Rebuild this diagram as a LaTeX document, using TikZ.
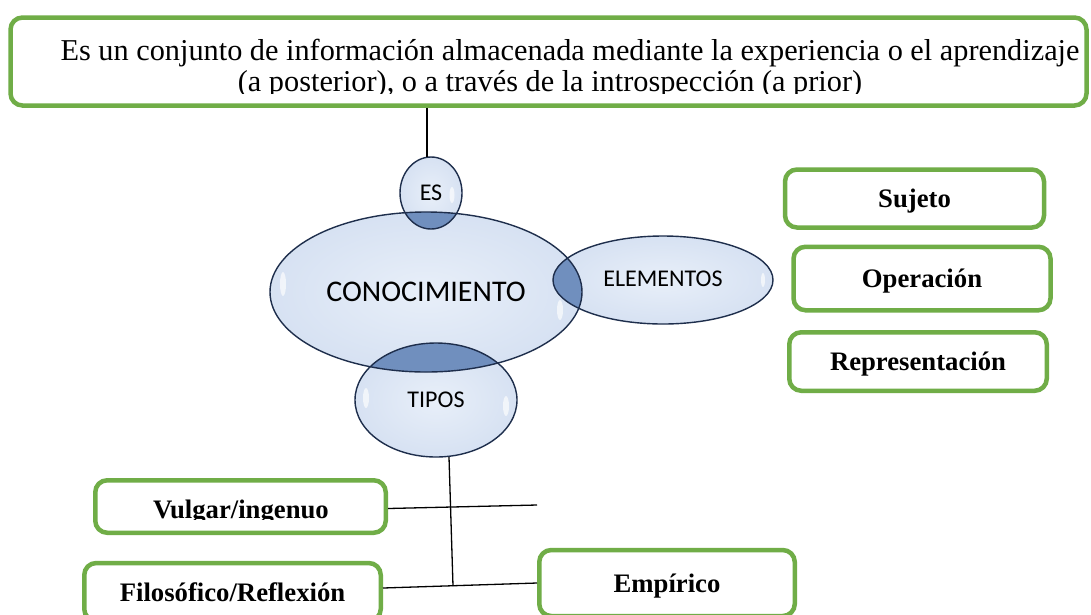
\documentclass[tikz,border=0pt]{standalone}
\usepackage{fontspec}
\setmainfont{Liberation Serif}
\newfontfamily\bubfont{Carlito}
\usetikzlibrary{shapes.geometric}
\definecolor{grn}{RGB}{112,173,71}
\definecolor{bubc}{RGB}{232,239,249}
\definecolor{bubm}{RGB}{214,225,242}
\definecolor{bubn}{RGB}{168,190,224}
\definecolor{bube}{RGB}{118,148,196}
\definecolor{bubline}{RGB}{30,46,76}
\definecolor{ovl}{RGB}{112,143,190}
\pgfdeclareradialshading{bubble}{\pgfpoint{0bp}{0bp}}{color(0bp)=(bubc); color(26bp)=(bubm); color(40bp)=(bubn); color(50bp)=(bube)}
\begin{document}
\begin{tikzpicture}[x=1pt,y=-1pt,
  gbox/.style={draw=grn, line width=4.5pt, rounded corners=12pt, fill=white, inner sep=0pt,
    text height=18pt, text depth=0pt, font=\fontsize{26.7}{29}\selectfont\bfseries},
  boxtext/.style={anchor=base, inner sep=0pt, font=\fontsize{26.7}{29}\selectfont\bfseries},
  bub/.style={ellipse, inner sep=0pt, shading=bubble, font=\bubfont\fontsize{24}{26}\selectfont},
  bubedge/.style={draw=bubline, line width=1.4pt},
  shine/.style={fill=white, opacity=0.65},
  conn/.style={draw=black, line width=1.3pt}]
\useasboundingbox (0,0) rectangle (1091,614);
\fill[white] (0,0) rectangle (1091,614);

% top box
\node[gbox, minimum width=1076pt, minimum height=88pt] (top) at (548.5,61.5) {};
\begin{scope}
  \clip (0,0) rectangle (1091,93);
  \node[anchor=base, inner sep=0pt, font=\fontsize{30.3}{32}\selectfont] (t1) at (570,60)
    {Es un conjunto de información almacenada mediante la experiencia o el aprendizaje};
  \node[anchor=base, inner sep=0pt, font=\fontsize{30.3}{32}\selectfont] (t2) at (550,91)
    {(a posterior), o a través de la introspección (a prior)};
\end{scope}

% bubbles
\node[bub, minimum width=312pt, minimum height=160pt, font=\bubfont\fontsize{30}{32}\selectfont] (cono) at (426,292) {CONOCIMIENTO};
\node[bub, minimum width=62pt, minimum height=72pt] (es) at (431,193) {ES};
\node[bub, minimum width=220pt, minimum height=88pt] (elem) at (663,280) {\raisebox{2pt}{ELEMENTOS}};
\node[bub, minimum width=162pt, minimum height=114pt] (tipos) at (436,400) {TIPOS};

\begin{scope}
  \clip (cono.center) ellipse [x radius=156, y radius=80];
  \fill[ovl] (es.center) ellipse [x radius=31, y radius=36];
  \fill[ovl] (elem.center) ellipse [x radius=110, y radius=44];
  \fill[ovl] (tipos.center) ellipse [x radius=81, y radius=57];
\end{scope}

% highlights
\fill[shine] (cono.center) ++(-143,-8) ellipse [x radius=3, y radius=12];
\fill[shine] (cono.center) ++(134,18) ellipse [x radius=3, y radius=10];
\fill[shine] (elem.center) ++(100,0) ellipse [x radius=2, y radius=7];
\fill[shine] (tipos.center) ++(-70,-2) ellipse [x radius=3, y radius=10];
\fill[shine] (tipos.center) ++(70,6) ellipse [x radius=3, y radius=10];
\fill[shine] (es.center) ++(21,2) ellipse [x radius=2.5, y radius=8];

\draw[bubedge] (cono.center) ellipse [x radius=156, y radius=80];
\draw[bubedge] (es.center) ellipse [x radius=31, y radius=36];
\draw[bubedge] (elem.center) ellipse [x radius=110, y radius=44];
\draw[bubedge] (tipos.center) ellipse [x radius=81, y radius=57];

% right boxes
\node[gbox, minimum width=259pt, minimum height=58pt] (suj) at (914.5,198.5) {Sujeto};
\node[gbox, minimum width=257pt, minimum height=63.5pt] (oper) at (922,278.5) {Operación};
\node[gbox, minimum width=257.5pt, minimum height=58.5pt] (repr) at (918,361.5) {Representación};

% bottom boxes
\node[gbox, minimum width=290.5pt, minimum height=52.5pt] (vulg) at (240.5,506.5) {};
\begin{scope}
  \clip (vulg.west) ++(5,-20) rectangle ++(280,33);
  \node[boxtext] (vulgt) at (241,518) {Vulgar/ingenuo};
\end{scope}
\node[gbox, minimum width=296.5pt, minimum height=58pt] (filo) at (232.5,592) {Filosófico/Reflexión};
\node[gbox, minimum width=255.5pt, minimum height=66pt] (emp) at (667,583) {Empírico};

% connectors
\draw[conn] ([xshift=-4pt]es.north |- top.south) -- ([xshift=-4pt]es.north);
\coordinate (j) at (453,586);
\coordinate (v) at (537,505);
\draw[conn] ([xshift=13pt]tipos.south) -- (j);
\draw[conn] ([yshift=-2pt]vulg.east) -- (v);
\draw[conn] ([yshift=4pt]filo.east) -- (emp.west);
\end{tikzpicture}
\end{document}
